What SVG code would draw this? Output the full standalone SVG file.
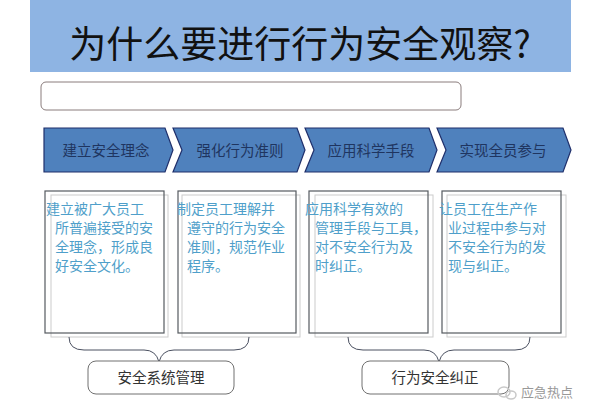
<svg xmlns="http://www.w3.org/2000/svg" width="600" height="400" viewBox="0 0 600 400">
<style>
.cjk{font-family:"Noto Sans CJK SC","Noto Sans",sans-serif}
.chev{fill:#4f81bd;stroke:#1f2f6b;stroke-width:1.2}
.chevt{font-size:14.5px;fill:#1f3560;text-anchor:middle}
.boxd{fill:none;stroke:#555a60;stroke-width:1.2}
.boxl{fill:#fff;stroke:#cccccc;stroke-width:1}
.bt{font-size:14px;fill:#4f9fca}
.brace{fill:none;stroke:#4a5060;stroke-width:1}
.lab{fill:#fff;stroke:#707070;stroke-width:1}
.labt{font-size:14.5px;fill:#333;text-anchor:middle}
</style>
<rect x="0" y="0" width="600" height="400" fill="#fff"/>
<g id="title">
<rect x="30" y="0" width="541" height="72" fill="#8eb4e3"/>
<text class="cjk" x="300" y="58" font-size="37" fill="#111" text-anchor="middle">为什么要进行行为安全观察?</text>
</g>
<g id="blank">
<rect x="41" y="82" width="420" height="28" rx="5" fill="#fff" stroke="#8a7c7c" stroke-width="1"/>
</g>
<g id="step1">
<path class="chev" stroke-width="2.2" d="M44,128 L165,128 L173,150 L165,172 L44,172 Z"/>
<text class="cjk chevt" x="106" y="156">建立安全理念</text>
</g>
<g id="step2">
<path class="chev" d="M173,128 L297,128 L305,150 L297,172 L173,172 L182,150 Z"/>
<text class="cjk chevt" x="240" y="156">强化行为准则</text>
</g>
<g id="step3">
<path class="chev" d="M305,128 L429,128 L437,150 L429,172 L305,172 L314,150 Z"/>
<text class="cjk chevt" x="371" y="156">应用科学手段</text>
</g>
<g id="step4">
<path class="chev" d="M437,128 L563,128 L571,150 L563,172 L437,172 L446,150 Z"/>
<text class="cjk chevt" x="503" y="156">实现全员参与</text>
</g>
<g id="box1">
<rect class="boxl" x="51" y="195" width="117" height="142"/>
<rect class="boxd" x="45" y="191" width="119" height="142"/>
<text class="cjk bt" x="46" y="214">建立被广大员工</text>
<text class="cjk bt" x="55" y="233">所普遍接受的安</text>
<text class="cjk bt" x="55" y="252">全理念，形成良</text>
<text class="cjk bt" x="55" y="271">好安全文化。</text>
</g>
<g id="box2">
<rect class="boxl" x="182" y="195" width="118" height="142"/>
<rect class="boxd" x="178" y="191" width="118" height="142"/>
<text class="cjk bt" x="177" y="214">制定员工理解并</text>
<text class="cjk bt" x="187" y="233">遵守的行为安全</text>
<text class="cjk bt" x="187" y="252">准则，规范作业</text>
<text class="cjk bt" x="187" y="271">程序。</text>
</g>
<g id="box3">
<rect class="boxl" x="315" y="195" width="118" height="142"/>
<rect class="boxd" x="309" y="191" width="119" height="142"/>
<text class="cjk bt" x="305" y="214">应用科学有效的</text>
<text class="cjk bt" x="315" y="233">管理手段与工具，</text>
<text class="cjk bt" x="315" y="252">对不安全行为及</text>
<text class="cjk bt" x="315" y="271">时纠正。</text>
</g>
<g id="box4">
<rect class="boxl" x="447" y="195" width="119" height="142"/>
<rect class="boxd" x="442" y="191" width="119" height="142"/>
<text class="cjk bt" x="439" y="214">让员工在生产作</text>
<text class="cjk bt" x="448" y="233">业过程中参与对</text>
<text class="cjk bt" x="448" y="252">不安全行为的发</text>
<text class="cjk bt" x="448" y="271">现与纠正。</text>
</g>
<g id="connectors">
<path class="brace" d="M69,337 Q69,350 84,350 L144,350 Q156,350 159,362 Q162,350 174,350 L234,350 Q249,350 249,337"/>
<path class="brace" d="M348,337 Q348,350 363,350 L424,350 Q436,350 439,362 Q442,350 454,350 L515,350 Q530,350 530,337"/>
</g>
<g id="label1">
<rect class="lab" x="88" y="361" width="146" height="33" rx="8"/>
<text class="cjk labt" x="161" y="383">安全系统管理</text>
</g>
<g id="label2">
<rect class="lab" x="362" y="361" width="147" height="33" rx="8"/>
<text class="cjk labt" x="435" y="383">行为安全纠正</text>
</g>
<g id="watermark">
<ellipse cx="504" cy="392" rx="6" ry="5" fill="none" stroke="#c8c8c8" stroke-width="1.5"/>
<ellipse cx="511" cy="395" rx="5" ry="4" fill="none" stroke="#c8c8c8" stroke-width="1.5"/>
<text class="cjk" x="521" y="397" font-size="13" fill="#999">应急热点</text>
</g>
</svg>
